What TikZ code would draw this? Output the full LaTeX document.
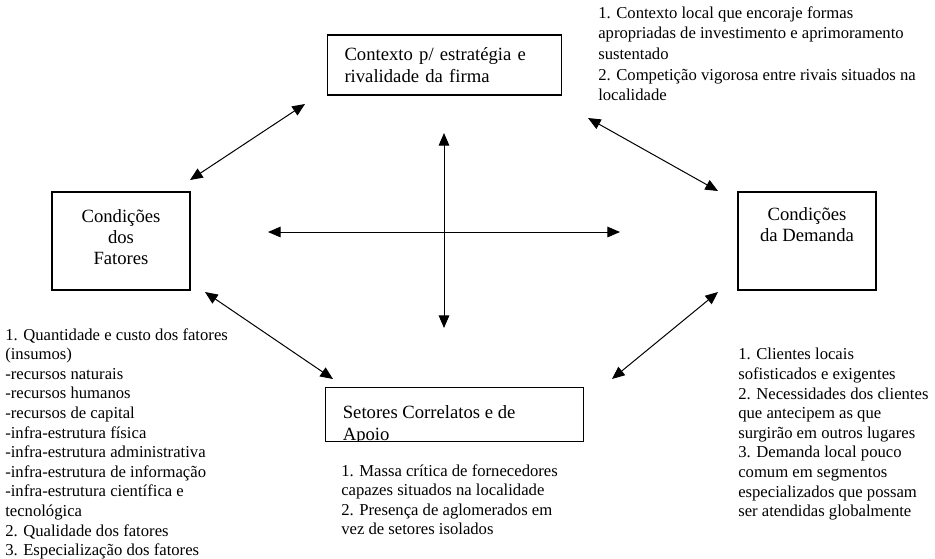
\documentclass[tikz,border=0pt]{standalone}
\usepackage{fontspec}
\setmainfont{Liberation Serif}
\usetikzlibrary{arrows.meta, positioning}

\begin{document}
\begin{tikzpicture}[
    x=0.75pt, y=-0.75pt,
    box/.style = {draw, rectangle, line width=0.8pt, align=center, font=\fontsize{14pt}{16pt}\selectfont},
    note/.style = {align=left, inner sep=0pt, anchor=north west, font=\fontsize{12.5pt}{14.7pt}\selectfont},
    line/.style = {{Triangle[length=9.5pt, width=8pt]}-{Triangle[length=9.5pt, width=8pt]}, line width=0.75pt}
]
    \useasboundingbox (0,0) rectangle (935,558);

    % Boxes
    \node [box, minimum width=176pt, minimum height=45pt, align=left, text width=150pt] (contexto) at (444.5,65) {Contexto p/ estratégia e\\rivalidade da firma};
    \node [box, minimum width=103.5pt, minimum height=73.5pt] (fatores) at (121,241) {Condições\\dos\\Fatores\\[-10pt]};
    \node [box, minimum width=103.5pt, minimum height=73.5pt] (demanda) at (807,241) {};
    \node [box, draw=none, below=8pt of demanda.north] (demandatxt) {Condições\\da Demanda};
    \node [box, minimum width=193pt, minimum height=40pt] (setores) at (454.5,414.5) {};
    \begin{scope}
        \clip (setores.south west) rectangle (setores.north east);
        \node [box, draw=none, inner sep=0pt, align=left, anchor=base west] (setorestxt) at ([shift={(17,53)}]setores.north west) {Setores Correlatos e de\\Apoio};
    \end{scope}

    % Notes
    \node [note, font=\fontsize{12.5pt}{15.5pt}\selectfont] (contextonote) at (598,6) {1. Contexto local que encoraje formas\\apropriadas de investimento e aprimoramento\\sustentado\\2. Competição vigorosa entre rivais situados na\\localidade};
    \node [note] (fatoresnote) at (5,328) {1. Quantidade e custo dos fatores\\(insumos)\\-recursos naturais\\-recursos humanos\\-recursos de capital\\-infra-estrutura física\\-infra-estrutura administrativa\\-infra-estrutura de informação\\-infra-estrutura científica e\\tecnológica\\2. Qualidade dos fatores\\3. Especialização dos fatores};
    \node [note] (demandanote) at (738,348) {1. Clientes locais\\sofisticados e exigentes\\2. Necessidades dos clientes\\que antecipem as que\\surgirão em outros lugares\\3. Demanda local pouco\\comum em segmentos\\especializados que possam\\ser atendidas globalmente};
    \node [note] (setoresnote) at (341,464) {1. Massa crítica de fornecedores\\capazes situados na localidade\\2. Presença de aglomerados em\\vez de setores isolados};

    % Arrow ends
    \coordinate (ulA) at (190,180);
    \coordinate (ulB) at (305,104);
    \coordinate (urA) at (588,118);
    \coordinate (urB) at (718,191);
    \coordinate (llA) at (205,292);
    \coordinate (llB) at (333,379);
    \coordinate (lrA) at (612,379);
    \coordinate (lrB) at (718,292);
    \coordinate (hA) at (268,232);
    \coordinate (hB) at (620,232);
    \coordinate (vA) at (444,133);
    \coordinate (vB) at (444,328);

    % Edges
    \draw [line] (ulA) -- (ulB);
    \draw [line] (urA) -- (urB);
    \draw [line] (llA) -- (llB);
    \draw [line] (lrA) -- (lrB);
    \draw [line] (hA) -- (hB);
    \draw [line] (vA) -- (vB);

\end{tikzpicture}
\end{document}
